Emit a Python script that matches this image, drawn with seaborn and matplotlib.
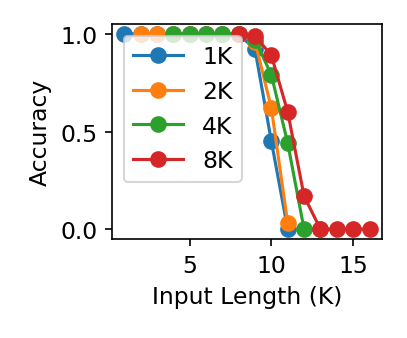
import matplotlib
matplotlib.use("Agg")
import matplotlib.pyplot as plt
import seaborn as sns
import pandas as pd

labels = ["1K", "2K", "4K", "8K"]
x_1k = [1, 2, 3, 4, 5, 6, 7, 8, 9, 10, 11]
y_1k = [1.0, 1.0, 1.0, 1.0, 1.0, 1.0, 1.0, 1.0, 0.92, 0.45, 0.0]
x_2k = [2, 3, 4, 5, 6, 7, 8, 9, 10, 11]
y_2k = [1.0, 1.0, 1.0, 1.0, 1.0, 1.0, 1.0, 0.96, 0.62, 0.03]
x_4k = [4, 5, 6, 7, 8, 9, 10, 11, 12, 13]
y_4k = [1.0, 1.0, 1.0, 1.0, 1.0, 0.97, 0.79, 0.44, 0.0, 0.0]
x_8k = [8, 9, 10, 11, 12, 13, 14, 15, 16]
y_8k = [1.0, 0.99, 0.89, 0.60, 0.17, 0.0, 0.0, 0.0, 0.0]

rows = []
for lab, xs, ys in zip(labels, [x_1k, x_2k, x_4k, x_8k], [y_1k, y_2k, y_4k, y_8k]):
    for xv, yv in zip(xs, ys):
        rows.append({"Input Length (K)": xv, "Accuracy": yv, "ctx": lab})
df = pd.DataFrame(rows)

plt.rcParams["font.size"] = 11.25
fig = plt.figure(figsize=(407 / 150, 339 / 150), dpi=150)
ax = fig.add_axes([0.275, 0.292, 0.663, 0.634])
palette = dict(zip(labels, ["#1f77b4", "#ff7f0e", "#2ca02c", "#d62728"]))
sns.lineplot(data=df, x="Input Length (K)", y="Accuracy", hue="ctx", hue_order=labels,
             palette=palette, marker="o", markersize=8, markeredgewidth=0,
             linewidth=1.5, ax=ax)
sns.move_legend(ax, "upper left", title=None, fontsize=11.25, handlelength=2.15)
ax.set_xticks([5, 10, 15])
ax.set_yticks([0.0, 0.5, 1.0])
fig.savefig("out.png", dpi=150)
